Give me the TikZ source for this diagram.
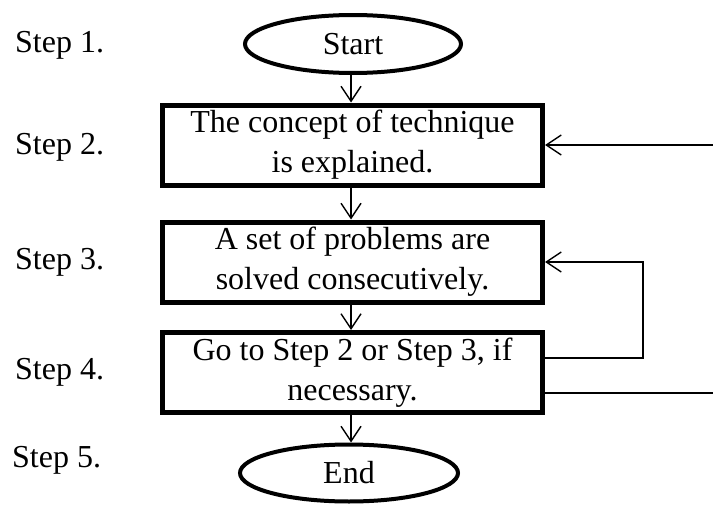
\documentclass[tikz,border=0pt]{standalone}
\usepackage{fontspec}
\setmainfont{Liberation Serif}
\usetikzlibrary{shapes.geometric,arrows.meta,calc}
\begin{document}
\begin{tikzpicture}[x=1pt,y=-1pt,
  every node/.style={font=\fontsize{32}{40}\selectfont},
  procbox/.style={draw,line width=5pt,rectangle,minimum width=380pt,minimum height=80pt,inner sep=0pt,align=center},
  termnode/.style={draw,line width=4pt,ellipse,minimum width=216pt,minimum height=58pt,inner sep=0pt},
  steplabel/.style={anchor=west,inner sep=0pt},
  conn/.style={line width=1.4pt},
  arr/.style={conn,-{Straight Barb[length=15pt,width=20pt,line width=1.4pt]}}]
\useasboundingbox (0,0) rectangle (713,506);
\node[termnode] (start) at (353,44) {Start};
\node[procbox] (b1) at (352.5,145) {The concept of technique\\is explained.};
\node[procbox] (b2) at (352.5,262) {A set of problems are\\solved consecutively.};
\node[procbox] (b3) at (352.5,372.5) {Go to Step 2 or Step 3, if\\necessary.};
\node[termnode,minimum width=218pt,minimum height=57pt] (end) at (349,473) {End};
\node[steplabel] (s1) at (15,45) {Step 1.};
\node[steplabel] (s2) at (15,147) {Step 2.};
\node[steplabel] (s3) at (15,262) {Step 3.};
\node[steplabel] (s4) at (15,372) {Step 4.};
\node[steplabel] (s5) at (12,460) {Step 5.};
\coordinate (a1) at (351,0);
\draw[arr] (start.south -| a1) -- (b1.north -| a1);
\draw[arr] (b1.south -| a1) -- (b2.north -| a1);
\draw[arr] (b2.south -| a1) -- (b3.north -| a1);
\draw[arr] (b3.south -| a1) -- (end.north -| a1);
\coordinate (r1) at (713,145);
\draw[arr] (r1) -- (b1.east |- r1);
\coordinate (loopx) at (643,0);
\coordinate (lo) at ($(b3.east)+(0,-14.5)$);
\draw[arr] (lo) -- (lo -| loopx) -- (loopx |- b2.east) -- (b2.east);
\coordinate (r2) at (713,393);
\draw[conn] (b3.east |- r2) -- (r2);
\end{tikzpicture}
\end{document}
